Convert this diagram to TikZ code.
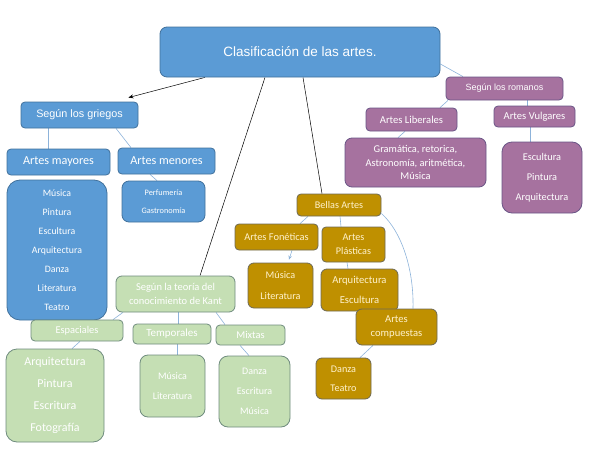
\documentclass[tikz,border=0pt]{standalone}
\usepackage{fontspec}
\setmainfont{Carlito}
\newfontfamily\arialf{Liberation Sans}
\usetikzlibrary{backgrounds,arrows.meta}
\newcommand\fsz[2]{\fontsize{#1}{#2}\selectfont}
\definecolor{bfill}{HTML}{5B9BD5}
\definecolor{bline}{HTML}{41719C}
\definecolor{pfill}{HTML}{A6729F}
\definecolor{pline}{HTML}{6A5586}
\definecolor{gfill}{HTML}{BF9000}
\definecolor{gline}{HTML}{6E6A55}
\definecolor{gtext}{HTML}{FFF2CC}
\definecolor{vfill}{HTML}{C5DFB4}
\definecolor{vline}{HTML}{6F8C7E}
\definecolor{conn}{HTML}{8DB3DA}
\tikzset{
  box/.style={rectangle, rounded corners=4pt, inner sep=0pt, align=center, line width=0.8pt},
  bluebox/.style={box, fill=bfill, draw=bline, text=white},
  purbox/.style={box, fill=pfill, draw=pline, text=white},
  goldbox/.style={box, fill=gfill, draw=gline, text=gtext},
  grnbox/.style={box, fill=vfill, draw=vline, text=white},
  lconn/.style={draw=conn, line width=0.6pt},
  kconn/.style={draw=black, line width=0.5pt},
}
\begin{document}
\begin{tikzpicture}[x=1pt,y=-1pt]
\useasboundingbox (0,0) rectangle (600,463);
% title
\node[bluebox, rounded corners=7pt, minimum width=280, minimum height=50, font=\arialf\fsz{13.5}{15}] (title) at (300,52) {Clasificación de las artes.};
% griegos
\node[bluebox, minimum width=117, minimum height=26, font=\arialf\fsz{10.8}{12}] (griegos) at (79.5,115) {Según los griegos};
\node[bluebox, minimum width=103, minimum height=26, font=\fsz{12.2}{14}] (mayores) at (58.5,162) {Artes mayores};
\node[bluebox, minimum width=97, minimum height=26, font=\fsz{12.2}{14}] (menores) at (166.5,161) {Artes menores};
\node[bluebox, rounded corners=13pt, minimum width=100, minimum height=140, font=\fsz{9.8}{19}] (mayoresL) at (57,250) {Música\\Pintura\\Escultura\\Arquitectura\\Danza\\Literatura\\Teatro};
\node[bluebox, rounded corners=7pt, minimum width=83, minimum height=41, font=\fsz{8.3}{18}] (menoresL) at (163.5,201.5) {Perfumería\\Gastronomía};
% kant
\node[grnbox, rounded corners=6pt, minimum width=119, minimum height=36, font=\fsz{10.5}{14}] (kant) at (175.5,294) {Según la teoría del\\conocimiento de Kant};
\node[grnbox, minimum width=92, minimum height=21, font=\fsz{10.4}{12}] (esp) at (77,330.5) {Espaciales};
\node[grnbox, minimum width=78, minimum height=20, font=\fsz{11}{12}] (temp) at (172,334) {Temporales};
\node[grnbox, minimum width=69, minimum height=20, font=\fsz{10.4}{12}] (mix) at (250.5,335) {Mixtas};
\node[grnbox, rounded corners=11pt, minimum width=98, minimum height=93, font=\fsz{12}{22}] (espL) at (55,395.5) {Arquitectura\\Pintura\\Escritura\\Fotografía};
\node[grnbox, rounded corners=8pt, minimum width=65, minimum height=62, font=\fsz{10}{20}] (tempL) at (172.5,386) {Música\\Literatura};
\node[grnbox, rounded corners=9pt, minimum width=71, minimum height=71, font=\fsz{10}{20}] (mixL) at (254.5,391.5) {Danza\\Escritura\\Música};
% romanos
\node[purbox, minimum width=117, minimum height=23, font=\arialf\fsz{9}{11}] (romanos) at (504.5,88.5) {Según los romanos};
\node[purbox, minimum width=91, minimum height=23, font=\fsz{10.6}{12}] (liber) at (411.5,119.5) {Artes Liberales};
\node[purbox, minimum width=81, minimum height=21, font=\fsz{10.6}{12}] (vulg) at (534.5,116.5) {Artes Vulgares};
\node[purbox, rounded corners=7pt, minimum width=141, minimum height=49, font=\fsz{10.4}{13.5}] (liberL) at (415.5,162.5) {Gramática, retorica,\\Astronomía, aritmética,\\Música};
\node[purbox, rounded corners=10pt, minimum width=80, minimum height=71, font=\fsz{10.3}{20}] (vulgL) at (542,177.5) {Escultura\\Pintura\\Arquitectura};
% bellas artes
\node[goldbox, minimum width=84, minimum height=22, font=\fsz{10.2}{12}] (bellas) at (339,205) {Bellas Artes};
\node[goldbox, minimum width=83, minimum height=26, font=\fsz{10.4}{12}] (fon) at (276.5,237) {Artes Fonéticas};
\node[goldbox, minimum width=63, minimum height=35, font=\fsz{10.2}{14}] (plas) at (353.5,244.5) {Artes\\Plásticas};
\node[goldbox, rounded corners=6pt, minimum width=65, minimum height=45, font=\fsz{10.2}{21}] (mlit) at (280.5,285.5) {Música\\Literatura};
\node[goldbox, rounded corners=6pt, minimum width=77, minimum height=42, font=\fsz{10.6}{20}] (arqesc) at (359.5,290) {Arquitectura\\Escultura};
\node[goldbox, rounded corners=6pt, minimum width=81, minimum height=36, font=\fsz{10.6}{14}] (comp) at (396.5,327) {Artes\\compuestas};
\node[goldbox, rounded corners=6pt, minimum width=55, minimum height=41, font=\fsz{10.2}{19}] (dt) at (343.5,378.5) {Danza\\Teatro};
\begin{scope}[on background layer]
% black connectors
\draw[kconn, -{Stealth[length=5pt,width=4pt]}] ([xshift=-95]title.south) -- ([xshift=-10,yshift=4]griegos.north east);
\draw[kconn] ([xshift=-35]title.south) -- ([xshift=24.5]kant.north);
\draw[kconn] ([xshift=3]title.south) -- ([xshift=-17]bellas.north);
% griegos
\draw[lconn] ([xshift=-31.5]griegos.south) -- ([xshift=-10.5]mayores.north);
\draw[lconn] ([xshift=36.5]griegos.south) -- ([xshift=-35.5]menores.north);
\draw[lconn] ([xshift=-16.5]menores.south) -- ([xshift=-6.5]menoresL.north);
% kant
\draw[lconn] ([xshift=-52.5]kant.south) -- ([xshift=36]esp.north);
\draw[lconn] ([xshift=2.5]kant.south) -- ([xshift=6]temp.north);
\draw[lconn] ([xshift=40.5]kant.south) -- ([xshift=-25.5]mix.north);
\draw[lconn] ([xshift=3]esp.south) -- ([xshift=17]espL.north);
\draw[lconn] ([xshift=5]temp.south) -- ([xshift=4.5]tempL.north);
\draw[lconn] ([xshift=-10.5]mix.south) -- ([xshift=-5.5]mixL.north);
% romanos
\draw[lconn] ([yshift=-12]title.east) -- ([xshift=-41.5]romanos.north);
\draw[lconn] ([xshift=-56.5]romanos.south) -- ([xshift=28.5]liber.north);
\draw[lconn] ([xshift=22.5]romanos.south) -- ([xshift=-7.5]vulg.north);
\draw[lconn] ([xshift=-6.5]liber.south) -- ([xshift=-17.5]liberL.north);
\draw[lconn] ([xshift=-4.5]vulg.south) -- ([xshift=-12]vulgL.north);
% bellas
\draw[lconn] ([xshift=-31]bellas.south) -- ([xshift=23.5]fon.north);
\draw[lconn, -{Stealth[length=4pt,width=3.5pt]}] ([xshift=15.5]fon.south) -- ([xshift=8.5,yshift=3]mlit.north);
\draw[lconn] ([xshift=1]bellas.south) -- ([xshift=-12.5]plas.north);
\draw[lconn] ([xshift=-6.5]plas.south) -- ([xshift=-11.5]arqesc.north);
\draw[lconn] ([yshift=3]bellas.south east) .. controls (402,232) and (414,270) .. ([xshift=16.5]comp.north);
\draw[lconn] ([xshift=-23.5]comp.south) -- ([xshift=16.5]dt.north);
\end{scope}
\end{tikzpicture}
\end{document}
